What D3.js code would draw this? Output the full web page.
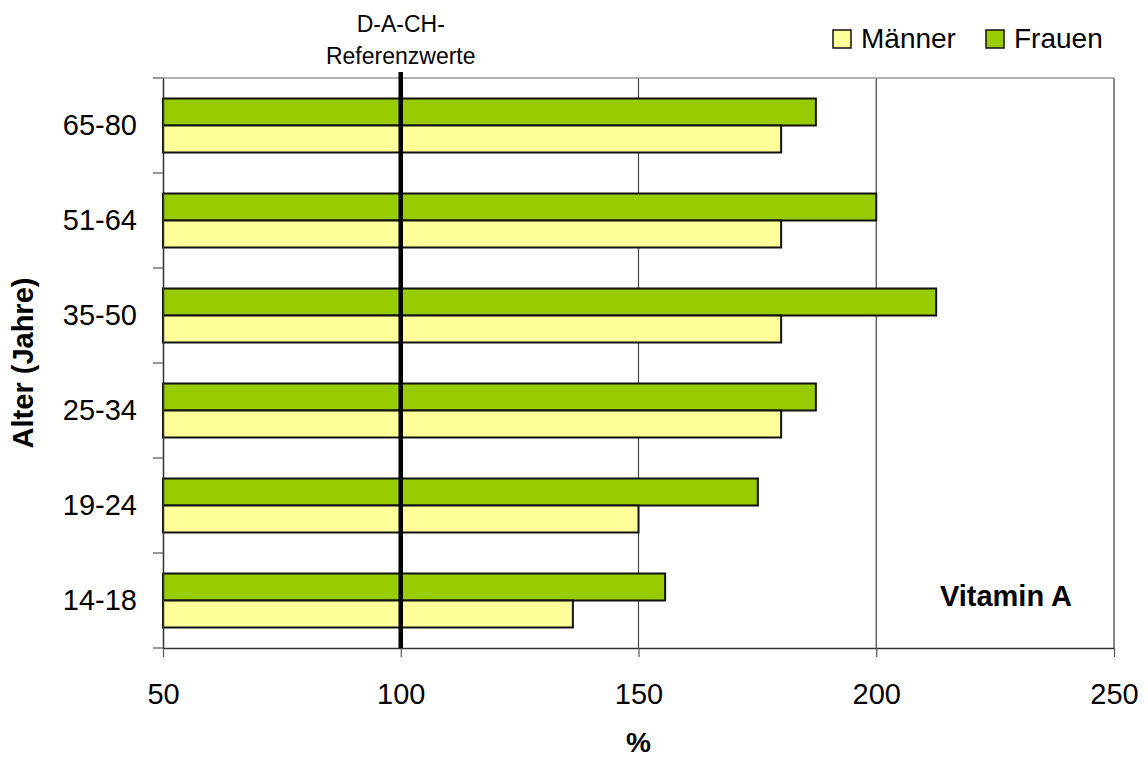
<!DOCTYPE html>
<html><head><meta charset="utf-8">
<script src="https://cdn.jsdelivr.net/npm/d3@7"></script>
<style>body{margin:0;background:#fff}svg{display:block;font-family:"Liberation Sans",Arial,sans-serif}</style>
</head><body>
<svg id="c" width="1148" height="758"></svg>
<script>
const categories = ["65-80","51-64","35-50","25-34","19-24","14-18"];
const frauen = [187.3, 200, 212.6, 187.3, 175.1, 155.6];
const maenner = [180, 180, 180, 180, 150, 136.2];
const xTicks = [50, 100, 150, 200, 250];
const refValue = 100;
const seriesNames = ["Männer","Frauen"];
const colors = {"Männer":"#ffff99","Frauen":"#99cc00"};

const svg = d3.select("#c");
const L=163, R=1114, T=78, B=648;
const x = d3.scaleLinear().domain([50,250]).range([L,R]);
const y = d3.scaleBand().domain(categories).range([T,B]).paddingInner(0).paddingOuter(0);
const inner = d3.scaleBand().domain(["Frauen","Männer"]).range([0,y.bandwidth()]).paddingOuter(0.76).paddingInner(0);

// gridlines
svg.append("g").selectAll("line").data(xTicks.filter(d=>d>50 && d<250)).join("line")
  .attr("x1",d=>x(d)).attr("x2",d=>x(d)).attr("y1",T).attr("y2",B)
  .attr("stroke","#444").attr("stroke-width",1.2);
// plot border top/right
svg.append("line").attr("x1",L).attr("x2",R).attr("y1",T).attr("y2",T).attr("stroke","#999").attr("stroke-width",1.5);
svg.append("line").attr("x1",R).attr("x2",R).attr("y1",T).attr("y2",B).attr("stroke","#888").attr("stroke-width",2);

// bars
const rows = categories.map((c,i)=>({c, F:frauen[i], M:maenner[i]}));
const g = svg.append("g");
rows.forEach(r=>{
  [["Frauen",r.F],["Männer",r.M]].forEach(([s,v])=>{
    g.append("rect").attr("x",x(50)).attr("y",y(r.c)+inner(s))
      .attr("width",x(v)-x(50)).attr("height",inner.bandwidth())
      .attr("fill",colors[s]).attr("stroke","#111").attr("stroke-width",2);
  });
});

// axes
const xa = svg.append("g").attr("transform",`translate(0,${B})`)
  .call(d3.axisBottom(x).tickValues(xTicks).tickSize(9).tickPadding(26).tickSizeOuter(0));
xa.select(".domain").attr("stroke","#333").attr("stroke-width",1.5);
xa.selectAll(".tick line").attr("stroke","#555").attr("stroke-width",1.2);
xa.selectAll("text").attr("font-size",29).attr("fill","#000").attr("font-family","Liberation Sans, Arial, sans-serif");

const ya = svg.append("g").attr("transform",`translate(${L},0)`)
  .call(d3.axisLeft(y).tickSize(0).tickPadding(26));
ya.select(".domain").attr("stroke","#333").attr("stroke-width",1.5);
ya.selectAll("text").attr("font-size",29).attr("fill","#000").attr("font-family","Liberation Sans, Arial, sans-serif");
// boundary ticks
const bounds = categories.map(c=>y(c)).concat([B]);
svg.append("g").selectAll("line").data(bounds).join("line")
  .attr("x1",L-10).attr("x2",L).attr("y1",d=>d).attr("y2",d=>d).attr("stroke","#555").attr("stroke-width",1.2);

// reference line
svg.append("line").attr("x1",x(refValue)).attr("x2",x(refValue)).attr("y1",T-6).attr("y2",B)
  .attr("stroke","#000").attr("stroke-width",4.5);
svg.append("text").attr("x",x(refValue)).attr("y",32).attr("text-anchor","middle").attr("font-size",23).text("D-A-CH-");
svg.append("text").attr("x",x(refValue)).attr("y",64).attr("text-anchor","middle").attr("font-size",23).text("Referenzwerte");

// titles
svg.append("text").attr("x",(L+R)/2).attr("y",752).attr("text-anchor","middle").attr("font-size",28).attr("font-weight","bold").text("%");
svg.append("text").attr("transform",`translate(33,${(T+B)/2}) rotate(-90)`).attr("text-anchor","middle").attr("font-size",29).attr("font-weight","bold").text("Alter (Jahre)");
svg.append("text").attr("x",1006).attr("y",606).attr("text-anchor","middle").attr("font-size",29).attr("font-weight","bold").text("Vitamin A");

// legend
const leg = [{s:"Männer",bx:833,tx:861},{s:"Frauen",bx:986,tx:1014}];
leg.forEach(d=>{
  svg.append("rect").attr("x",d.bx).attr("y",30).attr("width",18).attr("height",18)
    .attr("fill",colors[d.s]).attr("stroke","#111").attr("stroke-width",1.5);
  svg.append("text").attr("x",d.tx).attr("y",48).attr("font-size",28).text(d.s);
});
</script>
</body></html>
